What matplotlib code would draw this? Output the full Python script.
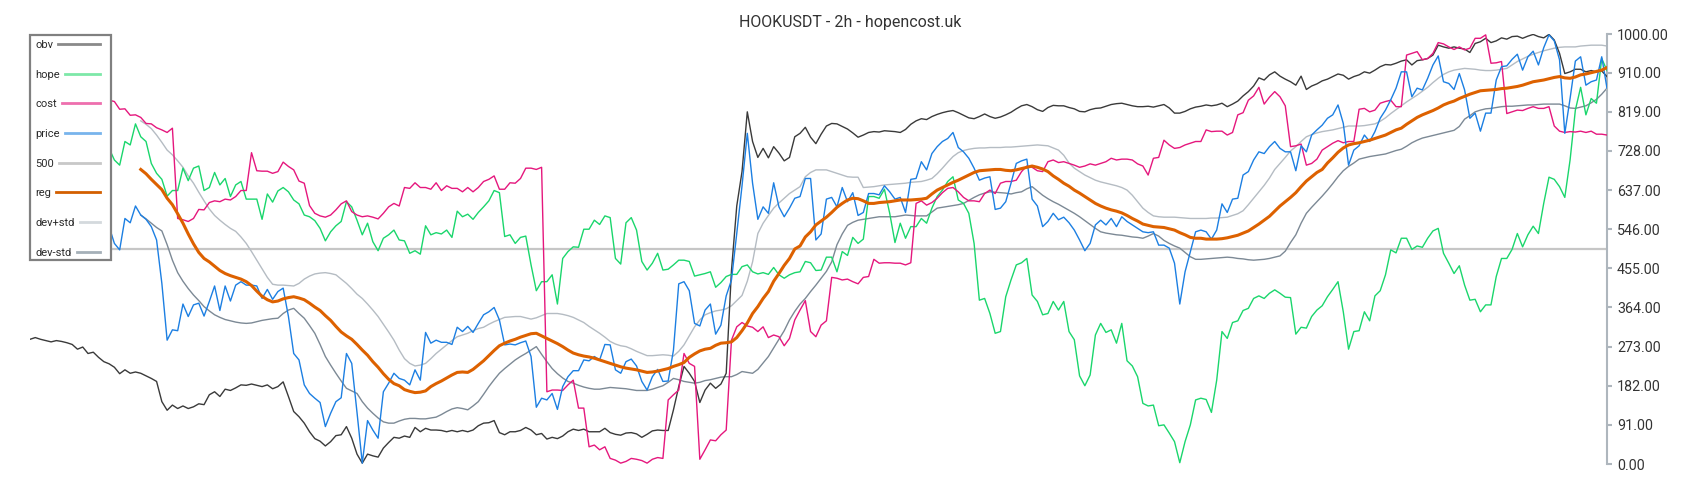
import numpy as np
import matplotlib
matplotlib.use("Agg")
import matplotlib.pyplot as plt
from matplotlib.lines import Line2D
from matplotlib.patches import Rectangle

plt.rcParams['font.family'] = ['Roboto', 'DejaVu Sans']

TITLE = "HOOKUSDT - 2h - hopencost.uk"

obv = [
    290, 294, 290, 287, 284, 287, 285, 282, 278, 267,
    272, 257, 260, 248, 238, 233, 225, 210, 219, 211,
    214, 211, 205, 199, 192, 145, 125, 137, 129, 135,
    129, 133, 140, 138, 161, 168, 157, 174, 171, 177,
    184, 183, 186, 183, 180, 184, 175, 180, 191, 157,
    122, 110, 95, 75, 59, 53, 42, 52, 66, 68,
    87, 60, 23, 2, 23, 19, 16, 37, 50, 62,
    60, 65, 62, 85, 75, 83, 79, 79, 78, 75,
    78, 75, 78, 75, 79, 89, 95, 96, 101, 73,
    68, 75, 75, 78, 85, 79, 68, 71, 58, 62,
    59, 65, 75, 81, 78, 81, 75, 75, 75, 83,
    73, 69, 67, 72, 73, 70, 62, 69, 77, 79,
    78, 78, 126, 180, 227, 211, 192, 143, 172, 188,
    176, 186, 211, 450, 600, 680, 819, 750, 713, 734,
    712, 738, 723, 705, 713, 761, 769, 783, 760, 745,
    767, 786, 792, 791, 785, 779, 770, 760, 765, 771,
    773, 772, 775, 774, 773, 771, 778, 790, 798, 803,
    801, 808, 813, 817, 820, 822, 817, 811, 805, 803,
    808, 814, 808, 804, 807, 812, 818, 826, 833, 836,
    831, 824, 820, 829, 834, 833, 833, 829, 826, 820,
    819, 824, 827, 828, 832, 836, 838, 839, 836, 833,
    831, 831, 832, 830, 833, 836, 828, 816, 816, 820,
    826, 830, 832, 835, 833, 835, 839, 831, 837, 844,
    856, 866, 879, 898, 893, 905, 912, 902, 895, 889,
    881, 902, 871, 879, 884, 891, 895, 901, 907, 904,
    895, 901, 905, 912, 909, 916, 924, 929, 928, 932,
    937, 940, 928, 938, 940, 943, 951, 974, 970, 967,
    970, 967, 965, 957, 978, 982, 990, 980, 984, 991,
    988, 994, 995, 990, 995, 999, 994, 991, 999, 986,
    955, 908, 912, 918, 918, 912, 915, 912, 914, 901,
]

hope = [
    760, 740, 755, 770, 750, 730, 745, 760, 740, 720,
    735, 750, 745, 730, 740, 734, 707, 695, 750, 742,
    791, 761, 750, 699, 676, 662, 623, 636, 636, 688,
    659, 688, 693, 636, 643, 678, 649, 664, 622, 649,
    657, 616, 616, 616, 569, 628, 609, 635, 643, 633,
    614, 605, 579, 575, 566, 548, 519, 540, 554, 564,
    610, 598, 567, 533, 560, 517, 496, 525, 533, 544,
    521, 519, 490, 496, 488, 554, 533, 538, 535, 544,
    527, 588, 575, 581, 569, 585, 598, 612, 636, 631,
    529, 533, 513, 527, 530, 463, 403, 424, 424, 440,
    372, 478, 494, 505, 504, 546, 546, 567, 557, 577,
    573, 478, 465, 561, 573, 544, 471, 451, 467, 490,
    451, 453, 463, 474, 474, 471, 437, 440, 443, 447,
    411, 422, 436, 441, 441, 459, 463, 447, 442, 445,
    441, 457, 440, 432, 440, 445, 447, 471, 468, 450,
    451, 481, 481, 447, 494, 485, 527, 513, 523, 622,
    622, 618, 639, 583, 515, 560, 525, 552, 552, 571,
    560, 595, 622, 637, 657, 668, 614, 606, 583, 513,
    381, 385, 350, 304, 308, 389, 428, 463, 468, 478,
    393, 378, 347, 350, 378, 358, 378, 308, 289, 205,
    182, 207, 300, 327, 306, 312, 281, 327, 240, 228,
    203, 141, 135, 137, 89, 91, 72, 52, 3, 52,
    91, 149, 153, 150, 120, 195, 308, 292, 329, 333,
    357, 362, 385, 391, 385, 397, 405, 397, 388, 387,
    302, 318, 316, 343, 358, 368, 389, 406, 424, 354,
    267, 308, 310, 354, 333, 391, 403, 440, 498, 491,
    525, 525, 499, 507, 504, 525, 542, 548, 490, 467,
    443, 461, 416, 381, 383, 354, 370, 370, 436, 478,
    478, 499, 536, 505, 533, 553, 536, 606, 667, 662,
    645, 620, 707, 823, 876, 812, 850, 839, 943, 915,
]

cost = [
    880, 875, 870, 872, 865, 868, 860, 862, 858, 855,
    857, 852, 850, 848, 849, 846, 843, 825, 826, 811,
    812, 806, 792, 791, 782, 777, 771, 781, 571, 568,
    564, 571, 592, 591, 608, 612, 610, 616, 614, 622,
    636, 636, 724, 682, 681, 681, 676, 680, 702, 692,
    684, 658, 653, 601, 583, 577, 574, 579, 591, 605,
    612, 587, 579, 575, 577, 574, 570, 583, 598, 606,
    600, 643, 641, 654, 643, 643, 639, 654, 636, 647,
    641, 641, 633, 643, 633, 643, 657, 662, 670, 639,
    639, 654, 653, 664, 688, 688, 685, 690, 168, 172,
    172, 171, 184, 195, 130, 130, 40, 44, 33, 40,
    13, 9, 2, 6, 13, 11, 8, 2, 11, 15,
    13, 149, 161, 172, 257, 234, 227, 11, 33, 56,
    54, 68, 79, 288, 319, 329, 321, 318, 308, 319,
    294, 300, 296, 275, 292, 335, 358, 380, 308, 296,
    323, 333, 434, 432, 428, 430, 424, 419, 434, 436,
    476, 467, 468, 468, 467, 467, 463, 468, 606, 612,
    602, 608, 618, 631, 641, 643, 633, 620, 612, 612,
    610, 629, 637, 629, 653, 657, 657, 660, 680, 693,
    690, 682, 680, 703, 707, 701, 703, 699, 695, 690,
    693, 698, 695, 699, 703, 711, 707, 709, 709, 707,
    698, 693, 672, 711, 713, 753, 742, 734, 736, 742,
    746, 750, 750, 777, 773, 774, 774, 765, 771, 812,
    817, 846, 856, 876, 837, 853, 866, 854, 833, 738,
    740, 744, 695, 699, 709, 730, 738, 746, 752, 747,
    750, 750, 825, 827, 819, 823, 839, 843, 846, 831,
    831, 951, 955, 959, 940, 943, 955, 980, 977, 970,
    964, 970, 963, 967, 990, 990, 998, 932, 933, 936,
    815, 819, 823, 822, 827, 831, 827, 827, 831, 786,
    774, 771, 773, 772, 774, 771, 774, 767, 767, 765,
]

price = [
    570, 555, 540, 560, 545, 530, 515, 525, 540, 520,
    505, 530, 545, 560, 548, 552, 513, 498, 571, 561,
    600, 579, 569, 552, 521, 420, 288, 312, 310, 372,
    343, 370, 374, 344, 378, 414, 357, 414, 379, 416,
    424, 416, 416, 414, 385, 406, 383, 401, 409, 343,
    257, 242, 184, 164, 153, 143, 87, 118, 145, 154,
    257, 234, 120, 2, 101, 79, 60, 168, 188, 211,
    199, 195, 184, 219, 195, 306, 281, 288, 283, 283,
    278, 318, 308, 320, 306, 327, 347, 354, 364, 335,
    277, 279, 277, 282, 286, 250, 132, 153, 149, 164,
    127, 180, 203, 217, 217, 242, 240, 250, 242, 278,
    277, 219, 211, 238, 244, 228, 192, 172, 203, 220,
    192, 193, 265, 419, 424, 403, 327, 321, 358, 372,
    302, 323, 391, 428, 536, 647, 769, 653, 569, 598,
    583, 654, 598, 575, 595, 618, 622, 664, 664, 521,
    535, 616, 620, 598, 643, 610, 631, 578, 585, 629,
    629, 626, 647, 633, 616, 620, 585, 662, 664, 703,
    684, 722, 738, 750, 757, 771, 736, 726, 711, 688,
    660, 665, 668, 592, 595, 610, 653, 699, 705, 709,
    616, 600, 552, 564, 583, 568, 574, 561, 544, 521,
    496, 513, 556, 567, 556, 571, 552, 575, 564, 556,
    548, 540, 538, 540, 509, 509, 502, 467, 372, 447,
    494, 540, 544, 540, 523, 544, 605, 585, 616, 618,
    672, 680, 707, 726, 722, 738, 750, 734, 726, 726,
    682, 740, 726, 765, 777, 788, 804, 812, 835, 792,
    695, 730, 740, 765, 750, 773, 804, 823, 847, 874,
    912, 912, 854, 874, 870, 897, 928, 949, 889, 885,
    871, 908, 870, 804, 816, 774, 816, 816, 893, 924,
    926, 941, 953, 916, 947, 960, 928, 968, 998, 984,
    940, 769, 850, 937, 947, 881, 889, 893, 947, 874,
]

band_start = 21  # first bar index of the regression / std band series

reg = [
    685, 675, 662, 650, 638, 618, 603, 582, 560, 535,
    512, 492, 478, 470, 460, 450, 443, 438, 434, 430,
    424, 415, 402, 390, 382, 377, 379, 384, 387, 389,
    386, 382, 374, 365, 357, 345, 334, 320, 307, 298,
    290, 278, 265, 253, 238, 225, 210, 197, 187, 182,
    173, 169, 166, 167, 170, 180, 187, 193, 200, 207,
    213, 214, 213, 220, 230, 240, 252, 264, 275, 281,
    286, 290, 295, 299, 303, 304, 298, 292, 286, 280,
    273, 265, 258, 254, 251, 249, 246, 242, 238, 234,
    230, 226, 223, 221, 219, 216, 213, 214, 216, 219,
    222, 227, 231, 236, 248, 256, 263, 267, 269, 276,
    281, 282, 284, 294, 310, 328, 350, 366, 385, 401,
    425, 443, 462, 478, 500, 507, 528, 540, 556, 565,
    574, 585, 597, 606, 614, 618, 617, 612, 606, 606,
    608, 609, 610, 612, 614, 614, 614, 615, 616, 618,
    628, 637, 643, 649, 655, 660, 666, 672, 678, 682,
    683, 684, 685, 685, 683, 682, 684, 687, 690, 693,
    690, 686, 680, 670, 662, 653, 646, 637, 630, 622,
    614, 606, 600, 595, 591, 588, 584, 578, 571, 565,
    558, 555, 552, 551, 550, 547, 544, 538, 533, 527,
    525, 525, 523, 523, 523, 524, 526, 529, 532, 537,
    542, 550, 558, 567, 576, 588, 600, 610, 620, 631,
    645, 658, 668, 678, 685, 700, 712, 725, 735, 742,
    745, 747, 750, 753, 757, 761, 765, 771, 777, 781,
    790, 798, 806, 812, 817, 822, 828, 835, 840, 844,
    850, 855, 860, 864, 868, 869, 870, 871, 873, 874,
    876, 878, 881, 885, 889, 891, 893, 896, 899, 901,
    898, 897, 900, 905, 907, 910, 913, 916, 922,
]

dev_plus = [
    798, 790, 780, 765, 748, 730, 719, 705, 690, 670,
    653, 632, 612, 593, 578, 567, 557, 548, 541, 528,
    513, 494, 474, 454, 434, 418, 416, 416, 415, 414,
    420, 430, 437, 442, 444, 445, 443, 440, 430, 420,
    408, 395, 385, 372, 358, 343, 325, 307, 288, 265,
    245, 234, 228, 230, 234, 245, 257, 267, 277, 287,
    296, 300, 304, 310, 315, 318, 325, 331, 336, 341,
    342, 343, 343, 340, 337, 340, 345, 350, 350, 350,
    348, 345, 341, 335, 329, 320, 312, 304, 295, 285,
    279, 275, 273, 268, 262, 257, 252, 252, 253, 254,
    253, 251, 262, 277, 298, 319, 335, 347, 352, 356,
    358, 361, 368, 380, 392, 425, 470, 536, 560, 578,
    595, 607, 618, 629, 637, 645, 668, 678, 684, 684,
    684, 680, 676, 672, 668, 667, 667, 643, 644, 645,
    647, 649, 650, 651, 652, 653, 655, 656, 657, 660,
    664, 675, 688, 702, 715, 724, 729, 732, 734, 735,
    735, 736, 736, 736, 737, 737, 738, 739, 740, 741,
    742, 741, 740, 735, 730, 718, 700, 688, 680, 672,
    666, 660, 656, 653, 650, 647, 643, 637, 625, 610,
    595, 585, 577, 575, 574, 574, 574, 573, 572, 571,
    571, 571, 571, 572, 572, 573, 574, 578, 582, 589,
    603, 618, 633, 648, 665, 685, 699, 713, 728, 738,
    750, 761, 766, 770, 773, 775, 777, 780, 783, 786,
    786, 786, 787, 789, 791, 797, 805, 815, 824, 833,
    842, 850, 858, 867, 876, 887, 897, 906, 912, 916,
    918, 920, 919, 918, 916, 915, 915, 916, 918, 920,
    928, 936, 942, 948, 953, 957, 961, 964, 967, 969,
    970, 970, 970, 972, 973, 974, 974, 974, 972,
]

dev_minus = [
    579, 570, 560, 550, 542, 510, 474, 445, 425, 408,
    393, 380, 366, 356, 347, 341, 336, 333, 330, 328,
    327, 328, 331, 334, 336, 338, 339, 350, 358, 362,
    350, 339, 322, 304, 278, 250, 230, 211, 193, 176,
    170, 164, 145, 130, 118, 107, 98, 95, 95, 100,
    104, 106, 106, 105, 105, 107, 109, 115, 122, 128,
    131, 129, 126, 135, 145, 162, 180, 196, 211, 222,
    232, 242, 250, 257, 265, 273, 255, 238, 222, 210,
    200, 192, 188, 183, 179, 176, 174, 174, 176, 178,
    177, 176, 175, 173, 171, 171, 171, 174, 178, 182,
    190, 199, 196, 192, 190, 188, 190, 194, 196, 199,
    202, 203, 203, 208, 215, 213, 211, 220, 235, 250,
    270, 290, 310, 335, 355, 372, 385, 401, 416, 432,
    448, 470, 510, 535, 555, 562, 567, 569, 571, 573,
    575, 575, 575, 575, 577, 579, 578, 577, 577, 577,
    586, 595, 597, 599, 601, 603, 606, 613, 620, 626,
    630, 633, 632, 631, 630, 628, 631, 633, 640, 645,
    635, 625, 617, 610, 604, 597, 590, 583, 575, 566,
    557, 548, 540, 537, 535, 533, 532, 530, 528, 527,
    525, 530, 536, 530, 520, 513, 507, 502, 492, 482,
    476, 476, 477, 478, 479, 480, 481, 480, 478, 477,
    475, 474, 475, 476, 478, 481, 484, 495, 515, 533,
    560, 583, 597, 610, 623, 637, 652, 668, 682, 692,
    700, 709, 712, 715, 717, 719, 721, 725, 729, 732,
    739, 747, 753, 758, 761, 764, 767, 770, 773, 776,
    785, 802, 810, 819, 823, 826, 827, 829, 831, 832,
    832, 833, 834, 835, 835, 836, 837, 837, 837, 837,
    833, 828, 827, 830, 833, 840, 848, 860, 874,
]

level_500 = 500
ytick_values = [0, 91, 182, 273, 364, 455, 546, 637, 728, 819, 910, 1000]
legend_labels = ['obv', 'hope', 'cost', 'price', '500', 'reg', 'dev+std', 'dev-std']

# ---------------------------------------------------------------- styling
line_colors = {
    'obv': '#3a3a3a', 'hope': '#1ad66c', 'cost': '#e5177d', 'price': '#1c7fe2',
    '500': '#c6c6c6', 'reg': '#dd6100', 'dev+std': '#b5bcc3', 'dev-std': '#7c8995',
}
legend_colors = ['#8a8a8a', '#7de8a8', '#ee6fae', '#78b4ec', '#c8c8c8',
                 '#d35f00', '#d4d9dd', '#a5b0b8']

W, H = 1700, 500
fig = plt.figure(figsize=(W / 100, H / 100), dpi=100)
ax_l, ax_r, ax_t, ax_b = 30, 1607, 34, 464          # plot area in pixels
ax = fig.add_axes([ax_l / W, (H - ax_b) / H, (ax_r - ax_l) / W, (ax_b - ax_t) / H])

x_all = np.arange(len(price))
x_obv = np.arange(len(obv))
x_hope = np.arange(len(hope))
x_cost = np.arange(len(cost))
x_reg = np.arange(band_start, band_start + len(reg))
x_up = np.arange(band_start, band_start + len(dev_plus))
x_dn = np.arange(band_start, band_start + len(dev_minus))

ax.axhline(level_500, color=line_colors['500'], lw=1.6, zorder=1)
ax.plot(x_up, dev_plus, color=line_colors['dev+std'], lw=1.0, zorder=2)
ax.plot(x_dn, dev_minus, color=line_colors['dev-std'], lw=1.0, zorder=2)
ax.plot(x_obv, obv, color=line_colors['obv'], lw=1.0, zorder=3)
ax.plot(x_hope, hope, color=line_colors['hope'], lw=1.0, zorder=3)
ax.plot(x_cost, cost, color=line_colors['cost'], lw=1.0, zorder=3)
ax.plot(x_all, price, color=line_colors['price'], lw=1.0, zorder=4)
ax.plot(x_reg, reg, color=line_colors['reg'], lw=2.2, zorder=5)

ax.set_xlim(0, len(price) - 1)
ax.set_ylim(0, 1000)
for s in ['left', 'top', 'bottom']:
    ax.spines[s].set_visible(False)
ax.spines['right'].set_color('#aeb6bd')
ax.spines['right'].set_linewidth(1.5)
ax.set_xticks([])
ax.yaxis.tick_right()
ax.set_yticks(ytick_values)
ax.set_yticklabels([f'{v:.2f}' for v in ytick_values])
ax.tick_params(axis='y', direction='out', length=3.6, width=1.5, color='#aeb6bd',
               labelsize=10.3, labelcolor='#333333', pad=3.6)
ax.set_facecolor('white')

fig.text(0.5, 1 - 26.5 / H, TITLE, ha='center', va='baseline', fontsize=11.5, color='#333333')

# legend frame (white box, square corners)
fx0, fx1, fy0, fy1 = 29.5, 111, 35, 260
ax.add_patch(Rectangle(((fx0 - ax_l) / (ax_r - ax_l), (ax_b - fy1) / (ax_b - ax_t)),
                       (fx1 - fx0) / (ax_r - ax_l), (fy1 - fy0) / (ax_b - ax_t),
                       transform=ax.transAxes, facecolor='white', edgecolor='#808080',
                       lw=1.6, zorder=9, clip_on=False))

handles = [Line2D([], [], color=c, lw=2.0) for c in legend_colors]
leg = ax.legend(handles, legend_labels, loc='upper left',
                bbox_to_anchor=(0, 1 - 1.0 / (ax_b - ax_t)),
                borderaxespad=0, markerfirst=False, frameon=False,
                fontsize=8, labelspacing=1.77, handlelength=1.8,
                handletextpad=0.48, borderpad=0.45)
leg.set_zorder(10)
for t in leg.get_texts():
    t.set_color('#2a2a2a')

# justify rows: labels left-aligned, handle lines reaching the right edge
try:
    fig.canvas.draw()
    r = fig.canvas.get_renderer()
    ws = [t.get_window_extent(r).width for t in leg.get_texts()]
    mw = max(ws)
    for col in leg._legend_handle_box.get_children():
        col.align = 'left'
    for ln, w in zip(leg.get_lines(), ws):
        xd = np.asarray(ln.get_xdata(), dtype=float)
        ln.set_xdata(np.linspace(xd[0], xd[-1] + (mw - w) * 72.0 / fig.dpi, len(xd)))
except Exception:
    pass

fig.savefig('out.png', dpi=100)
